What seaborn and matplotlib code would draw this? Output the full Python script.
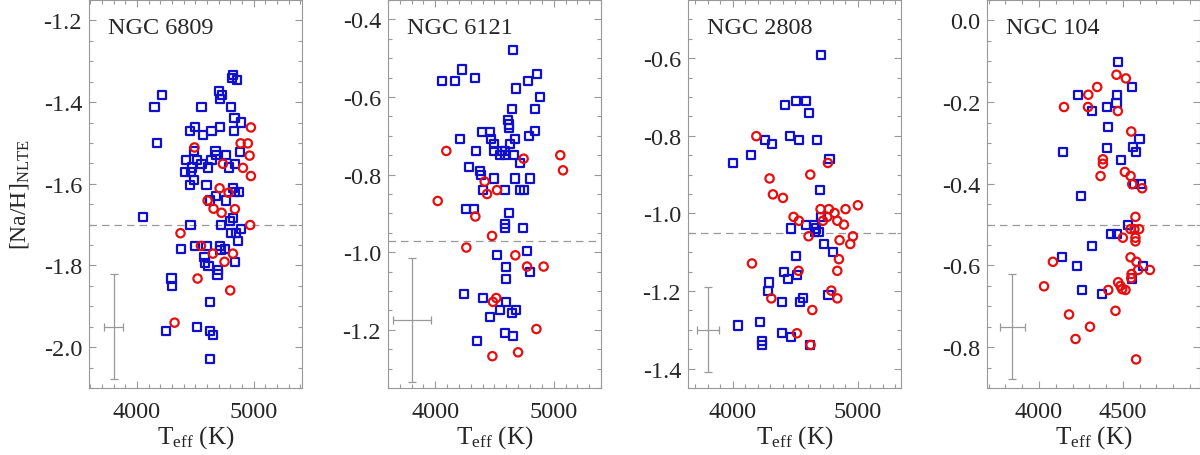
import numpy as np
import pandas as pd
import matplotlib
matplotlib.use('Agg')
import matplotlib.pyplot as plt
import seaborn as sns
from matplotlib.ticker import MultipleLocator, FormatStrFormatter

# ---- data ----
clusters = ['NGC 6809', 'NGC 6121', 'NGC 2808', 'NGC 104']
mean_na = [-1.70, -0.97, -1.05, -0.50]

# NGC 6809
t_blue_6809 = [4823, 4815, 4857, 4214, 4151, 4706, 4729, 4711, 4554, 4806, 4837, 4889,
               4497, 4457, 4711, 4640, 4566, 4831, 4171, 4491, 4674, 4880, 4680, 4766,
               4423, 4514, 4640, 4554, 4474, 4609, 4786, 4409, 4466, 4843, 4491, 4457,
               4597, 4820, 4874, 4843, 4680, 4766, 4629, 4051, 4460, 4723, 4823, 4800,
               4891, 4803, 4846, 4866, 4380, 4497, 4597, 4711, 4757, 4717, 4580, 4583,
               4614, 4697, 4691, 4843, 4297, 4303, 4626, 4246, 4517, 4626, 4651, 4626]
na_blue_6809 = [-1.333, -1.342, -1.345, -1.382, -1.412, -1.372, -1.383, -1.393, -1.412,
                -1.412, -1.440, -1.450, -1.461, -1.471, -1.461, -1.471, -1.481, -1.471,
                -1.501, -1.520, -1.520, -1.522, -1.530, -1.530, -1.542, -1.542, -1.542,
                -1.551, -1.560, -1.560, -1.560, -1.571, -1.571, -1.551, -1.591, -1.602,
                -1.602, -1.610, -1.620, -1.620, -1.631, -1.641, -1.641, -1.681, -1.701,
                -1.701, -1.683, -1.692, -1.710, -1.720, -1.720, -1.741, -1.760, -1.752,
                -1.752, -1.752, -1.760, -1.762, -1.780, -1.793, -1.801, -1.811, -1.822,
                -1.791, -1.832, -1.851, -1.890, -1.960, -1.951, -1.960, -1.970, -2.030]
t_red_6809 = [4977, 4889, 4951, 4494, 4966, 4737, 4909, 4977, 4709, 4786, 4606, 4657,
              4726, 4840, 4971, 4374, 4549, 4651, 4823, 4751, 4520, 4800, 4323]
na_red_6809 = [-1.462, -1.501, -1.501, -1.511, -1.531, -1.551, -1.561, -1.581, -1.611,
               -1.622, -1.641, -1.661, -1.671, -1.662, -1.701, -1.721, -1.752, -1.771,
               -1.771, -1.791, -1.832, -1.861, -1.940]

# NGC 6121
t_blue_6121 = [4656, 4225, 4056, 4163, 4332, 4859, 4780, 4684, 4887, 4648, 4845, 4614,
               4620, 4620, 4392, 4459, 4839, 4789, 4206, 4473, 4676, 4493, 4628, 4346,
               4493, 4563, 4591, 4549, 4586, 4662, 4718, 4282, 4380, 4389, 4493, 4676,
               4797, 4400, 4591, 4713, 4746, 4262, 4324, 4620, 4591, 4586, 4741, 4521,
               4775, 4597, 4797, 4597, 4245, 4403, 4597, 4549, 4679, 4459, 4648, 4591,
               4656, 4352]
na_blue_6121 = [-0.480, -0.529, -0.559, -0.559, -0.550, -0.540, -0.559, -0.578, -0.600,
                -0.630, -0.630, -0.660, -0.671, -0.681, -0.690, -0.690, -0.688, -0.700,
                -0.709, -0.709, -0.709, -0.720, -0.720, -0.739, -0.739, -0.739, -0.739,
                -0.750, -0.750, -0.750, -0.769, -0.780, -0.790, -0.801, -0.810, -0.810,
                -0.810, -0.840, -0.840, -0.840, -0.840, -0.888, -0.888, -0.900, -0.928,
                -0.938, -0.938, -1.008, -0.998, -1.038, -1.050, -1.068, -1.108, -1.118,
                -1.129, -1.148, -1.148, -1.168, -1.157, -1.208, -1.217, -1.228]
t_red_6121 = [4093, 4746, 5056, 5079, 4417, 4521, 4437, 4020, 4338, 4479, 4262, 4676,
              4775, 4915, 4515, 4487, 4854, 4699, 4482]
na_red_6121 = [-0.739, -0.759, -0.750, -0.789, -0.818, -0.840, -0.850, -0.868, -0.908,
               -0.958, -0.988, -1.008, -1.037, -1.037, -1.118, -1.128, -1.198, -1.258,
               -1.268]

# NGC 2808
t_blue_2808 = [4707, 4419, 4501, 4587, 4608, 4453, 4528, 4672, 4259, 4312, 4141, 4000,
               4773, 4699, 4707, 4587, 4645, 4667, 4461, 4653, 4685, 4728, 4800, 4507,
               4405, 4440, 4515, 4288, 4280, 4765, 4560, 4533, 4392, 4040, 4213, 4395,
               4461, 4232, 4232, 4619]
na_blue_2808 = [-0.591, -0.720, -0.711, -0.711, -0.741, -0.801, -0.810, -0.810, -0.810,
                -0.820, -0.849, -0.869, -0.859, -0.940, -1.009, -1.029, -1.029, -1.039,
                -1.039, -1.047, -1.049, -1.079, -1.099, -1.109, -1.150, -1.170, -1.159,
                -1.178, -1.199, -1.210, -1.219, -1.229, -1.229, -1.289, -1.279, -1.309,
                -1.319, -1.328, -1.339, -1.339]
t_red_2808 = [4187, 4760, 4619, 4293, 4320, 4400, 5000, 4701, 4768, 4901, 4813, 4485,
              4755, 4528, 4720, 4835, 4888, 4605, 4960, 4853, 4939, 4152, 4848, 4525,
              4835, 4787, 4307, 4835, 4635, 4512, 4621]
na_red_2808 = [-0.801, -0.870, -0.900, -0.910, -0.951, -0.960, -0.979, -0.989, -0.989,
               -0.989, -0.999, -1.009, -1.009, -1.019, -1.019, -1.019, -1.029, -1.059,
               -1.059, -1.069, -1.079, -1.129, -1.118, -1.148, -1.148, -1.199, -1.219,
               -1.219, -1.249, -1.309, -1.339]

# NGC 104
t_blue_104 = [4470, 4552, 4232, 4466, 4462, 4403, 4315, 4411, 4599, 4561, 4577, 4403,
              4143, 4490, 4569, 4609, 4248, 4530, 4427, 4466, 4317, 4139, 4224, 4621,
              4556, 4254, 4373]
na_blue_104 = [-0.102, -0.163, -0.182, -0.182, -0.202, -0.212, -0.222, -0.261, -0.291,
               -0.310, -0.322, -0.312, -0.322, -0.342, -0.401, -0.401, -0.431, -0.501,
               -0.522, -0.522, -0.552, -0.580, -0.601, -0.601, -0.632, -0.660, -0.670]
t_red_104 = [4462, 4518, 4347, 4294, 4149, 4292, 4470, 4550, 4381, 4381, 4367, 4512,
             4546, 4556, 4615, 4575, 4546, 4569, 4597, 4500, 4575, 4575, 4546, 4581,
             4083, 4591, 4661, 4552, 4550, 4472, 4486, 4496, 4516, 4413, 4030, 4456,
             4179, 4304, 4218, 4579]
na_red_104 = [-0.133, -0.142, -0.163, -0.182, -0.212, -0.212, -0.222, -0.272, -0.340,
              -0.351, -0.381, -0.371, -0.381, -0.401, -0.411, -0.481, -0.511, -0.511,
              -0.511, -0.532, -0.532, -0.541, -0.580, -0.591, -0.591, -0.611, -0.611,
              -0.621, -0.631, -0.641, -0.650, -0.658, -0.660, -0.660, -0.651, -0.711,
              -0.720, -0.750, -0.780, -0.830]

# typical error bars (centre and half-widths)
err_t = [3800, 3800, 3800, 3840]
err_na = [-1.95, -1.175, -1.30, -0.75]
err_dt = [85, 160, 86, 75]
err_dna = [0.128, 0.16, 0.11, 0.129]

blue = [t_blue_6809, t_blue_6121, t_blue_2808, t_blue_104]
blue_na = [na_blue_6809, na_blue_6121, na_blue_2808, na_blue_104]
red = [t_red_6809, t_red_6121, t_red_2808, t_red_104]
red_na = [na_red_6809, na_red_6121, na_red_2808, na_red_104]

xlims = [(3590, 5415), (3600, 5400), (3640, 5345), (3690, 4960)]
ylims = [(-2.1, -1.15), (-1.35, -0.35), (-1.45, -0.45), (-0.9, 0.05)]
xmajor = [1000, 1000, 1000, 500]

sns.set_style('ticks')
plt.rcParams['font.family'] = ['Liberation Serif', 'DejaVu Serif']
plt.rcParams['mathtext.fontset'] = 'custom'
plt.rcParams['mathtext.rm'] = 'Liberation Serif'
plt.rcParams['mathtext.it'] = 'Liberation Serif:italic'

c_blue = '#1010cc'
c_red = '#e60f0f'
grey = '#999999'

fig = plt.figure(figsize=(12, 4.56), dpi=100)
lefts = [89, 388, 688, 987]

for i, name in enumerate(clusters):
    ax = fig.add_axes([lefts[i] / 1200, 1 - 389 / 456, 213 / 1200, 388 / 456])
    ax.axhline(mean_na[i], color=grey, ls='--', lw=0.9, dashes=(6, 4), zorder=1)
    ax.errorbar(err_t[i], err_na[i], xerr=err_dt[i], yerr=err_dna[i], color='#999999',
                lw=0.9, capsize=3, capthick=0.9, zorder=1)
    dfb = pd.DataFrame({'teff': blue[i], 'na': blue_na[i]})
    dfr = pd.DataFrame({'teff': red[i], 'na': red_na[i]})
    sns.scatterplot(data=dfb, x='teff', y='na', ax=ax, marker='s', s=34,
                    color=c_blue, facecolor='none', edgecolor=c_blue, linewidth=1.6, zorder=3)
    sns.scatterplot(data=dfr, x='teff', y='na', ax=ax, marker='o', s=36,
                    color=c_red, facecolor='none', edgecolor=c_red, linewidth=1.6, zorder=3)
    ax.set_xlim(*xlims[i])
    ax.set_ylim(*ylims[i])
    ax.xaxis.set_major_locator(MultipleLocator(xmajor[i]))
    ax.xaxis.set_minor_locator(MultipleLocator(100))
    ax.yaxis.set_major_locator(MultipleLocator(0.2))
    ax.yaxis.set_minor_locator(MultipleLocator(0.05))
    ax.yaxis.set_major_formatter(FormatStrFormatter('%.1f'))
    ax.tick_params(which='both', direction='in', top=True, right=True, color=grey,
                   labelsize=17.5, width=0.8)
    ax.tick_params(which='major', length=5)
    ax.tick_params(which='minor', length=3)
    ax.tick_params(axis='x', pad=9)
    ax.tick_params(axis='y', pad=5)
    for sp in ax.spines.values():
        sp.set_color(grey)
        sp.set_linewidth(0.8)
    ax.text(0.088, 0.928, name, transform=ax.transAxes, fontsize=17.5, va='center', ha='left')
    ax.set_xlabel(r'T$_{\rm eff}$ (K)', fontsize=18, labelpad=1)
    if i == 0:
        ax.set_ylabel(r'[Na/H]$_{\rm NLTE}$', fontsize=17, labelpad=9)
    else:
        ax.set_ylabel('')

fig.savefig('out.png', dpi=100)
